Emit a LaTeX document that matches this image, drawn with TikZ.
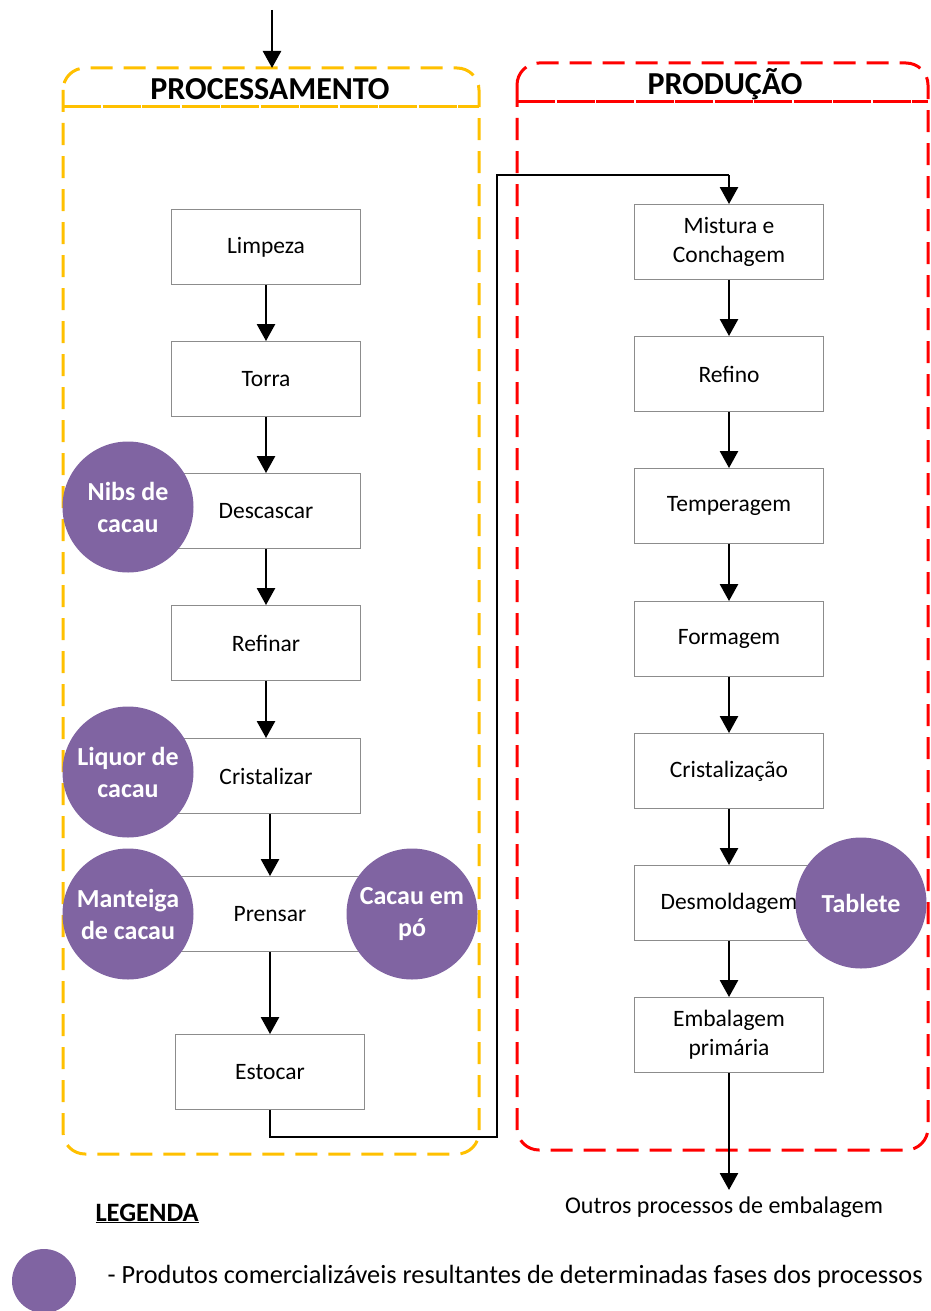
\documentclass[tikz,border=0pt]{standalone}
\usepackage{fontspec}
\setmainfont{Carlito}
\usetikzlibrary{arrows.meta}
\definecolor{procyellow}{HTML}{FFC000}
\definecolor{prodred}{HTML}{FF0000}
\definecolor{prodpurple}{HTML}{8064A2}
\definecolor{boxgray}{HTML}{8C8C8C}

\begin{document}
\begin{tikzpicture}[x=1pt,y=-1pt,
  stepbox/.style={draw=boxgray, line width=0.9pt, fill=white,
    minimum width=189pt, minimum height=75pt, align=center, inner sep=0pt,
    font=\fontsize{23.5}{29}\selectfont},
  product/.style={circle, fill=prodpurple, minimum size=131pt, inner sep=0pt,
    align=center, text=white, font=\bfseries\fontsize{26}{32}\selectfont},
  flow/.style={line width=2.6pt, -{Triangle[length=17pt,width=18pt]}},
  link/.style={line width=2.6pt, line join=miter},
  frame/.style={line width=3pt, dash pattern=on 22pt off 11pt, rounded corners=22pt},
  divider/.style={line width=3pt, dash pattern=on 38pt off 1.5pt},
  title/.style={anchor=base, font=\bfseries\fontsize{32}{38}\selectfont},
  plain/.style={font=\fontsize{24}{29}\selectfont}
]
\useasboundingbox (0,0) rectangle (931,1311);

% stage frames
\draw[frame, procyellow] (63,68) rectangle (479,1154);
\draw[divider, procyellow] (63,107) -- (479,107);
\draw[frame, prodred] (517,63) rectangle (928,1150);
\draw[divider, prodred] (517,102) -- (928,102);

\node[title] (ptitle) at (270,100) {PROCESSAMENTO};
\node[title] (rtitle) at (725,95) {PRODUÇÃO};

% processing steps
\node[stepbox] (limpeza) at (266,247) {Limpeza};
\node[stepbox] (torra) at (266,379) {Torra};
\node[stepbox] (descascar) at (266,511) {Descascar};
\node[stepbox] (refinar) at (266,643) {Refinar};
\node[stepbox] (cristalizar) at (266,776) {Cristalizar};
\node[stepbox] (prensar) at (270,914) {Prensar};
\node[stepbox] (estocar) at (270,1072) {Estocar};

% production steps
\node[stepbox] (mistura) at (729,242) {Mistura e\\Conchagem};
\node[stepbox] (refino) at (729,374) {Refino};
\node[stepbox] (temperagem) at (729,506) {Temperagem};
\node[stepbox] (formagem) at (729,639) {Formagem};
\node[stepbox] (cristalizacao) at (729,771) {Cristalização};
\node[stepbox] (desmoldagem) at (729,903) {Desmoldagem};
\node[stepbox] (embalagem) at (729,1035) {Embalagem\\primária};

% entry and exit
\coordinate (entry) at (272,10);
\coordinate (exit) at (729,1190);
\node[plain, anchor=north] (outros) at (724,1193) {Outros processos de embalagem};

\draw[flow] (entry) -- (272,68);
\draw[flow] (limpeza) -- (torra);
\draw[flow] (torra) -- (descascar);
\draw[flow] (descascar) -- (refinar);
\draw[flow] (refinar) -- (cristalizar);
\draw[flow] (cristalizar.south -| prensar) -- (prensar);
\draw[flow] (prensar) -- (estocar);

\draw[flow] (mistura) -- (refino);
\draw[flow] (refino) -- (temperagem);
\draw[flow] (temperagem) -- (formagem);
\draw[flow] (formagem) -- (cristalizacao);
\draw[flow] (cristalizacao) -- (desmoldagem);
\draw[flow] (desmoldagem) -- (embalagem);
\draw[flow] (embalagem) -- (exit);

% hand-over from processing to production
\draw[link] (estocar.south) -- (270,1137) -- (497,1137) -- (497,175) -- (729,175);
\draw[flow] (729,175) -- (mistura.north);

% marketable products
\node[product] (nibs) at (128,507) {Nibs de\\cacau};
\node[product] (liquor) at (128,772) {Liquor de\\cacau};
\node[product] (manteiga) at (128,914) {Manteiga\\de cacau};
\node[product] (po) at (412,914) {Cacau em\\pó};
\node[product] (tablete) at (861,903) {Tablete};

% legend
\node[anchor=base west, font=\bfseries\fontsize{26.5}{31}\selectfont] (legtitle) at (92,1221) {\underline{LEGENDA}};
\node[circle, fill=prodpurple, minimum size=64pt, inner sep=0pt] (legdot) at (44,1281) {};
\node[anchor=west, font=\fontsize{26.3}{31}\selectfont] (legtext) at (104,1276) {- Produtos comercializáveis resultantes de determinadas fases dos processos};
\end{tikzpicture}
\end{document}
